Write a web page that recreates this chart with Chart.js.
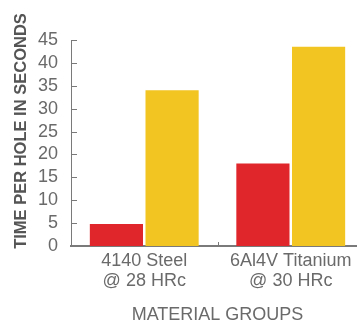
<!DOCTYPE html>
<html>
<head>
<meta charset="utf-8">
<script src="https://cdn.jsdelivr.net/npm/chart.js@4"></script>
<style>
  html, body { margin: 0; padding: 0; background: #fff; overflow: hidden; }
  #wrap { width: 364px; height: 322px; }
</style>
</head>
<body>
<div id="wrap"><canvas id="myChart"></canvas></div>
<script>
// chart data
var categories = [['4140 Steel', '@ 28 HRc'], ['6Al4V Titanium', '@ 30 HRc']];
var redValues = [4.8, 18];
var yellowValues = [34, 43.5];
var yTicks = [0, 5, 10, 15, 20, 25, 30, 35, 40, 45];
var yTitle = 'TIME PER HOLE IN SECONDS';

var axisColor = '#7a7a7a';
var textColor = '#6a6a6a';

// short ticks pointing into the plot + the y title, placed like the original
var innerTicks = {
  id: 'innerTicks',
  afterDraw: function(chart) {
    var ctx = chart.ctx;
    var x = chart.scales.x, y = chart.scales.y;
    ctx.save();
    ctx.strokeStyle = axisColor;
    ctx.lineWidth = 1;
    ctx.beginPath();
    yTicks.forEach(function(v) {
      var py = Math.round(y.getPixelForValue(v)) + 0.5;
      ctx.moveTo(x.left, py);
      ctx.lineTo(x.left + 6, py);
    });
    // category boundary tick on the x axis
    for (var i = 1; i < categories.length; i++) {
      var px = Math.round((x.getPixelForValue(i - 1) + x.getPixelForValue(i)) / 2) + 0.5;
      ctx.moveTo(px, y.bottom);
      ctx.lineTo(px, y.bottom - 4);
    }
    ctx.stroke();

    // rotated axis title
    ctx.translate(21, 131);
    ctx.rotate(-Math.PI / 2);
    ctx.fillStyle = '#555555';
    ctx.font = 'bold 16.5px "Liberation Sans"';
    ctx.textAlign = 'center';
    ctx.textBaseline = 'middle';
    ctx.fillText(yTitle, 0, 0);
    ctx.restore();
  }
};

var ctx = document.getElementById('myChart').getContext('2d');
var myChart = new Chart(ctx, {
  type: 'bar',
  data: {
    labels: categories,
    datasets: [{
      data: redValues,
      backgroundColor: '#e0262b',
      categoryPercentage: 0.76,
      barPercentage: 0.955
    }, {
      data: yellowValues,
      backgroundColor: '#f2c523',
      categoryPercentage: 0.76,
      barPercentage: 0.955
    }]
  },
  options: {
    responsive: true,
    maintainAspectRatio: false,
    animation: false,
    layout: { padding: { top: 40, right: 0, left: 0, bottom: 0 } },
    plugins: {
      legend: { display: false },
      tooltip: { enabled: false }
    },
    scales: {
      y: {
        min: 0,
        max: 45,
        afterBuildTicks: function(scale) {
          scale.ticks = yTicks.map(function(v) { return { value: v }; });
        },
        afterFit: function(scale) { scale.width = 71; },
        grid: { display: false },
        border: { display: true, color: axisColor, width: 1 },
        ticks: {
          autoSkip: false,
          color: textColor,
          padding: 5,
          font: { family: 'Liberation Sans', size: 18 }
        }
      },
      x: {
        afterFit: function(scale) { scale.height = 76; },
        grid: { display: false },
        border: { display: true, color: axisColor, width: 2 },
        ticks: {
          color: textColor,
          padding: -3,
          font: { family: 'Liberation Sans', size: 18, lineHeight: 1.1 }
        },
        title: {
          display: true,
          text: 'MATERIAL GROUPS',
          color: textColor,
          padding: { top: 12, bottom: -4 },
          font: { family: 'Liberation Sans', size: 18 }
        }
      }
    }
  },
  plugins: [innerTicks]
});
</script>
</body>
</html>
